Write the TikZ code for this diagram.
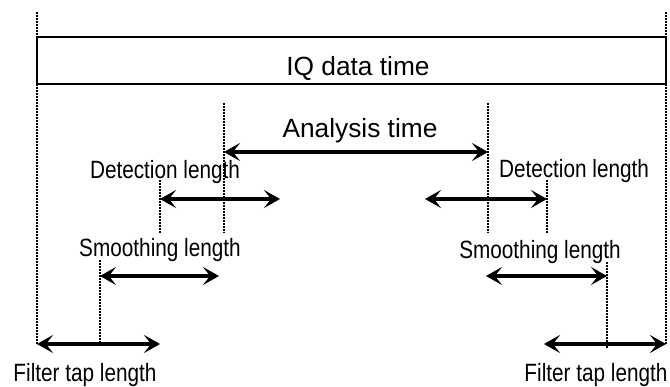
\documentclass[tikz,border=0pt]{standalone}
\usepackage{fontspec}
\setmainfont{Liberation Sans}
\newfontfamily\narrowsf[FakeStretch=0.83]{Liberation Sans}
\usetikzlibrary{arrows.meta}
\tikzset{
  marker/.style={line width=1.6pt, dash pattern=on 1.6pt off 1.4pt},
  span/.style={{Stealth[length=16pt,width=18pt,inset=7pt]}-{Stealth[length=16pt,width=18pt,inset=7pt]}, line width=3.6pt},
  databox/.style={draw, line width=1.8pt, minimum width=629pt, minimum height=47pt, inner sep=0pt},
  big/.style={font=\fontsize{26.3}{31}\selectfont, inner sep=0pt, anchor=base},
  lab/.style={font=\narrowsf\fontsize{25}{30}\selectfont, inner sep=0pt, anchor=base},
}

\begin{document}
\begin{tikzpicture}[x=1pt, y=-1pt]
\useasboundingbox (0,0) rectangle (670,387);
\node[databox] (iq) at (351.5,60.5) {};
\node[big] (iqt) at (358,76) {IQ data time};
% marker lines
\coordinate (l0t) at (37,12);   \coordinate (l0b) at (37,345);
\coordinate (r0t) at (666,12);  \coordinate (r0b) at (666,345);
\coordinate (a1t) at (224,103); \coordinate (a1b) at (224,233);
\coordinate (a2t) at (488,103); \coordinate (a2b) at (488,233);
\coordinate (d1t) at (160,180); \coordinate (d1b) at (160,233);
\coordinate (d2t) at (547,180); \coordinate (d2b) at (547,233);
\coordinate (s1t) at (100,260); \coordinate (s1b) at (100,345);
\coordinate (s2t) at (607,262); \coordinate (s2b) at (607,348);
\foreach \m in {l0,r0,a1,a2,d1,d2,s1,s2}
  \draw[marker] (\m t) -- (\m b);
% arrows
\coordinate (an1) at (224,152); \coordinate (an2) at (488,152);
\coordinate (dl1) at (160,199); \coordinate (dl2) at (280,199);
\coordinate (dr1) at (425,199); \coordinate (dr2) at (547,199);
\coordinate (sl1) at (100,276); \coordinate (sl2) at (219,276);
\coordinate (sr1) at (486,276); \coordinate (sr2) at (607,276);
\coordinate (fl1) at (37,344);  \coordinate (fl2) at (160,344);
\coordinate (fr1) at (544,344); \coordinate (fr2) at (666,344);
\foreach \p in {an,dl,dr,sl,sr,fl,fr}
  \draw[span] (\p 1) -- (\p 2);
% labels
\node[big] (ant) at (360,138) {Analysis time};
\node[lab] (dlt) at (165,179) {Detection length};
\node[lab] (drt) at (574,178) {Detection length};
\node[lab] (slt) at (160,257) {Smoothing length};
\node[lab] (srt) at (540,259) {Smoothing length};
\node[lab] (flt) at (85,382) {Filter tap length};
\node[lab] (frt) at (596,382) {Filter tap length};
\end{tikzpicture}
\end{document}
